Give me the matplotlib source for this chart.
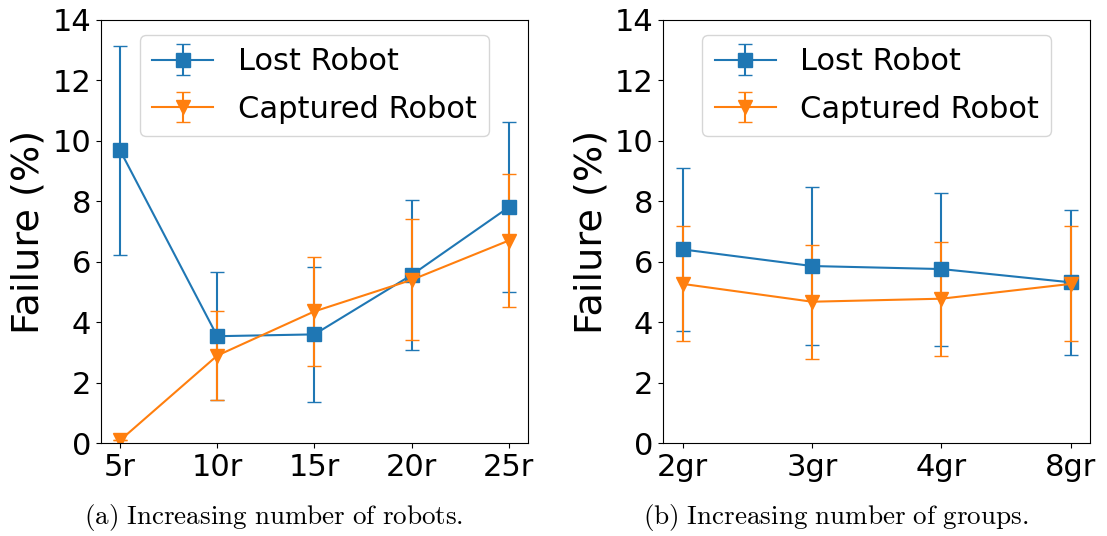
import matplotlib.pyplot as plt

plt.rcParams['font.family'] = ['DejaVu Sans']
plt.rcParams['mathtext.fontset'] = 'cm'

# Panel (a): increasing number of robots
robots_labels = ["5r", "10r", "15r", "20r", "25r"]
robots_lost = [9.68, 3.54, 3.60, 5.56, 7.80]
robots_lost_err = [3.47, 2.12, 2.24, 2.47, 2.81]
robots_captured = [0.1, 2.90, 4.36, 5.40, 6.70]
robots_captured_err = [0.0, 1.47, 1.80, 2.00, 2.21]

# Panel (b): increasing number of groups
groups_labels = ["2gr", "3gr", "4gr", "8gr"]
groups_lost = [6.41, 5.86, 5.76, 5.32]
groups_lost_err = [2.70, 2.61, 2.53, 2.40]
groups_captured = [5.27, 4.68, 4.78, 5.27]
groups_captured_err = [1.90, 1.89, 1.89, 1.90]

BLUE = "#1f77b4"
ORANGE = "#ff7f0e"

fig = plt.figure(figsize=(11.07, 5.36), dpi=100)
ax_a = fig.add_axes([0.091, 0.173, 0.386, 0.790])
ax_b = fig.add_axes([0.599, 0.173, 0.386, 0.790])


def draw_panel(ax, labels, lost, lost_err, captured, captured_err):
    x = list(range(len(labels)))
    ax.errorbar(x, lost, yerr=lost_err, color=BLUE, marker="s", markersize=10,
                capsize=5, linewidth=1.5, label="Lost Robot")
    ax.errorbar(x, captured, yerr=captured_err, color=ORANGE, marker="v",
                markersize=10, capsize=5, linewidth=1.5, label="Captured Robot")
    ax.set_xticks(x)
    ax.set_xticklabels(labels)
    ax.set_ylim(0, 14)
    ax.set_yticks(range(0, 15, 2))
    ax.tick_params(labelsize=22)
    ax.set_ylabel("Failure (%)", fontsize=27.5)
    ax.legend(loc="upper center", fontsize=22, labelspacing=0.6)


draw_panel(ax_a, robots_labels, robots_lost, robots_lost_err,
           robots_captured, robots_captured_err)
draw_panel(ax_b, groups_labels, groups_lost, groups_lost_err,
           groups_captured, groups_captured_err)

fig.text(0.247, 0.035, r"$\mathrm{(a)\ Increasing\ number\ of\ robots.}$",
         fontsize=19.5, ha="center", va="center")
fig.text(0.755, 0.035, r"$\mathrm{(b)\ Increasing\ number\ of\ groups.}$",
         fontsize=19.5, ha="center", va="center")

fig.savefig("out.png", dpi=100)
